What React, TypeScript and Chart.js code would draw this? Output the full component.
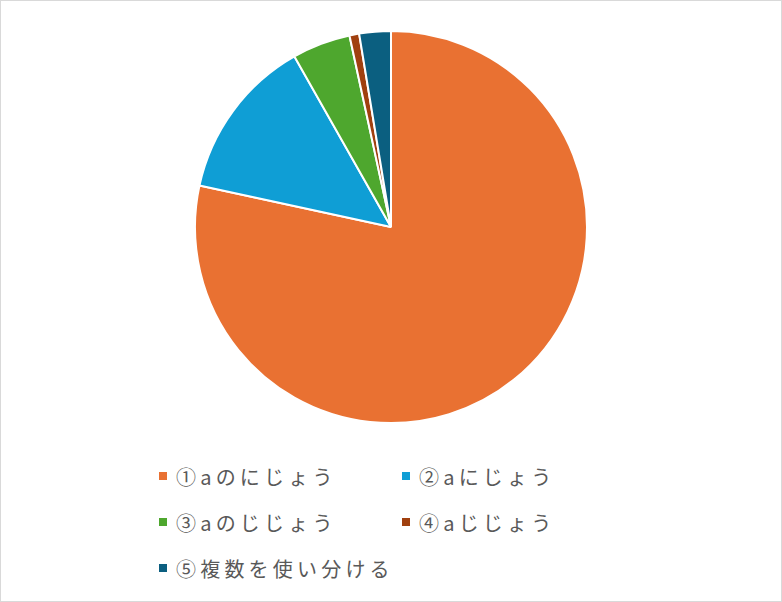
import React, { useEffect, useRef } from "react";
import { Chart, registerables } from "chart.js";

Chart.register(...registerables);

const categories = ["①aのにじょう", "②aにじょう", "③aのじじょう", "④aじじょう", "⑤複数を使い分ける"];
const values = [78.4, 13.4, 4.8, 0.8, 2.6];
const colors = ["#E97132", "#0F9ED5", "#4EA72E", "#A0400F", "#0B5F80"];

export default function App() {
  const canvasRef = useRef<HTMLCanvasElement | null>(null);

  useEffect(() => {
    if (!canvasRef.current) return;
    const chart = new Chart(canvasRef.current, {
      type: "pie",
      data: {
        labels: categories,
        datasets: [
          {
            data: values,
            backgroundColor: colors,
            borderColor: "#ffffff",
            borderWidth: 2,
          },
        ],
      },
      options: {
        animation: false,
        responsive: false,
        maintainAspectRatio: false,
        layout: { padding: 0 },
        plugins: {
          legend: { display: false },
          tooltip: { enabled: false },
        },
      },
    });
    return () => chart.destroy();
  }, []);

  return (
    <div
      style={{
        position: "relative",
        width: 782,
        height: 602,
        boxSizing: "border-box",
        border: "1px solid #d9d9d9",
        background: "#ffffff",
        fontFamily: "'Noto Sans CJK JP', 'Noto Sans', sans-serif",
      }}
    >
      <style>{`body{margin:0}`}</style>
      <canvas
        ref={canvasRef}
        width={780}
        height={394}
        style={{ position: "absolute", left: 0, top: 29, width: 780, height: 394 }}
      />
      <div
        style={{
          position: "absolute",
          left: 158,
          top: 452,
          display: "grid",
          gridTemplateColumns: "243px 243px",
          gridAutoRows: "46px",
        }}
      >
        {categories.map((c, i) => (
          <div key={c} style={{ display: "flex", alignItems: "center", height: 46 }}>
            <span
              style={{
                display: "inline-block",
                width: 8,
                height: 8,
                background: colors[i],
                marginRight: 9,
              }}
            />
            <span
              style={{
                fontSize: 20,
                color: "#595959",
                letterSpacing: 4.2,
                whiteSpace: "nowrap",
              }}
            >
              {c}
            </span>
          </div>
        ))}
      </div>
    </div>
  );
}
